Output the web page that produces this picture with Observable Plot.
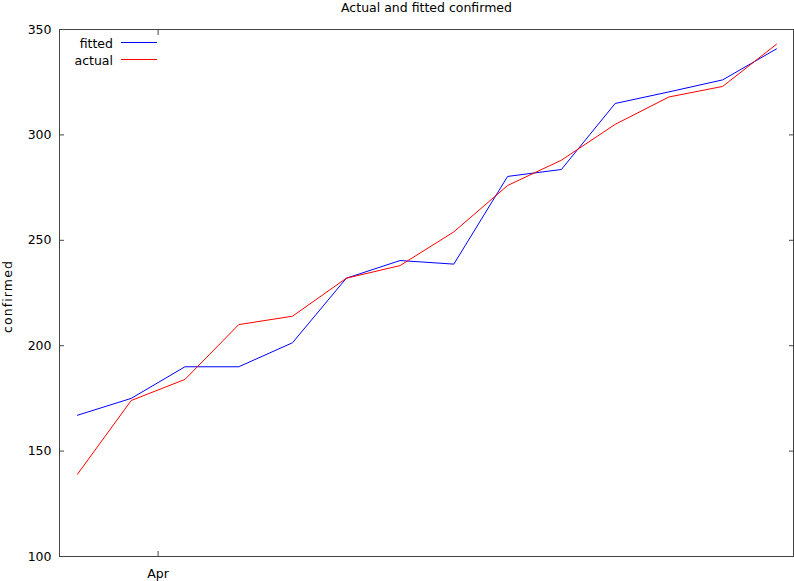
<!DOCTYPE html>
<html>
<head>
<meta charset="utf-8">
<script src="https://cdn.jsdelivr.net/npm/d3@7"></script>
<script src="https://cdn.jsdelivr.net/npm/@observablehq/plot@0.6"></script>
<style>
  html, body { margin: 0; padding: 0; background: #fff; }
  #chart { position: relative; width: 794px; height: 581px; }
</style>
</head>
<body>
<div id="chart"></div>
<script>
const titleText = "Actual and fitted confirmed";
const yLabel = "confirmed";
const dates = [
  "2020-03-30T12:00Z", "2020-03-31T12:00Z", "2020-04-01T12:00Z", "2020-04-02T12:00Z",
  "2020-04-03T12:00Z", "2020-04-04T12:00Z", "2020-04-05T12:00Z", "2020-04-06T12:00Z",
  "2020-04-07T12:00Z", "2020-04-08T12:00Z", "2020-04-09T12:00Z", "2020-04-10T12:00Z",
  "2020-04-11T12:00Z", "2020-04-12T12:00Z"
];
const fitted = [167, 175, 190, 190, 201.4, 232, 240.4, 238.7, 280.3, 283.6, 314.9, 320.4, 326.1, 340.8];
const actual = [139, 174, 184, 210, 214, 232, 238, 254, 276, 288, 305, 318, 323, 343];
const seriesNames = ["fitted", "actual"];
const seriesColors = ["#0000ff", "#ff0000"];
const yTicks = [100, 150, 200, 250, 300, 350];
const xTicks = ["2020-04-01T00:00Z"];
const xDomain = ["2020-03-30T04:00Z", "2020-04-12T19:36Z"];

const fittedRows = dates.map((d, i) => ({date: new Date(d), value: fitted[i]}));
const actualRows = dates.map((d, i) => ({date: new Date(d), value: actual[i]}));
const xTickDates = xTicks.map(d => new Date(d));

const font = "DejaVu Sans";
const plot = Plot.plot({
  width: 794,
  height: 581,
  marginTop: 29,
  marginBottom: 25,
  marginLeft: 59,
  marginRight: 1,
  style: {fontFamily: font, fontSize: "12.5px", color: "#000", background: "#fff", overflow: "visible"},
  x: {type: "utc", domain: xDomain.map(d => new Date(d))},
  y: {domain: [100, 350]},
  marks: [
    Plot.frame({stroke: "#444"}),
    Plot.axisY({anchor: "left", ticks: yTicks, tickSize: -5, tickPadding: 13, label: null, stroke: "#444", fill: "#000"}),
    Plot.axisY({anchor: "right", ticks: yTicks, tickSize: -5, label: null, stroke: "#444", fill: "none"}),
    Plot.axisX({anchor: "bottom", ticks: xTickDates, tickSize: -5, tickPadding: 18, tickFormat: d3.utcFormat("%b"), label: null, stroke: "#444", fill: "#000"}),
    Plot.axisX({anchor: "top", ticks: xTickDates, tickSize: -5, label: null, stroke: "#444", fill: "none"}),
    Plot.line(fittedRows, {x: "date", y: "value", stroke: seriesColors[0], strokeWidth: 1}),
    Plot.line(actualRows, {x: "date", y: "value", stroke: seriesColors[1], strokeWidth: 1}),
    Plot.text([titleText], {frameAnchor: "top", lineAnchor: "top", dy: -26.5, fill: "#000", fontSize: 12.5}),
    Plot.text([yLabel], {frameAnchor: "left", textAnchor: "middle", lineAnchor: "middle", rotate: -90, dx: -52, dy: 3.5, fill: "#000", fontSize: 12.5, className: "ylab"})
  ]
});
document.getElementById("chart").appendChild(plot);
d3.select(plot).selectAll(".ylab text").style("letter-spacing", "1.1px");

// legend (inside plot, top-left, gnuplot style)
const svg = d3.select(plot);
const lg = svg.append("g").attr("font-family", font).attr("font-size", "12.5px");
seriesNames.forEach((name, i) => {
  const yb = 48 + i * 17;
  lg.append("text").attr("x", 113).attr("y", yb).attr("text-anchor", "end").attr("fill", "#000").text(name);
  lg.append("line").attr("x1", 121).attr("x2", 157).attr("y1", yb - 5.5).attr("y2", yb - 5.5)
    .attr("stroke", seriesColors[i]).attr("stroke-width", 1);
});
</script>
</body>
</html>
